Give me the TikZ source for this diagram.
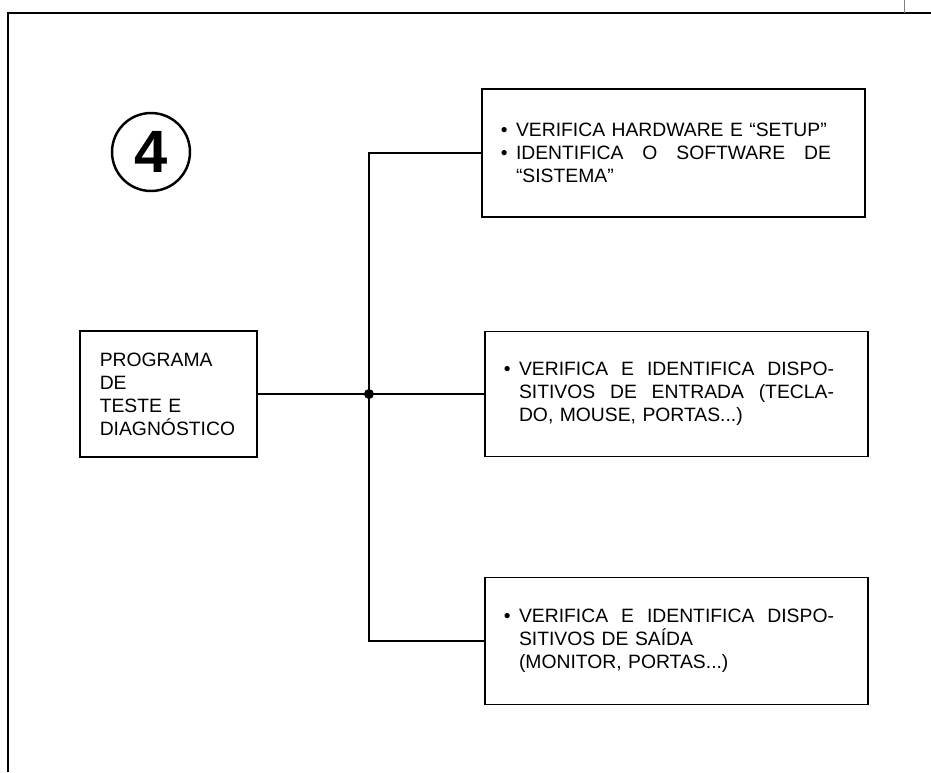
\documentclass[tikz,border=0pt]{standalone}
\usepackage{fontspec}
\setmainfont{Liberation Sans}
\usetikzlibrary{positioning, calc}
\newlength{\linew}
\setlength{\linew}{6.3cm}
\newcommand{\blt}{\leavevmode\llap{\textbullet\hspace{0.17cm}}}
\newcommand{\spread}[1]{\makebox[\linew][s]{\spaceskip=0.28em plus 1fil\relax #1}}
\tikzstyle{infobox} = [rectangle, draw=black, line width=1.1pt, minimum width=7.66cm,
                       text width=6.3cm, align=left, inner xsep=0.3cm]
\tikzstyle{progbox} = [rectangle, draw=black, line width=1.1pt, minimum width=3.54cm,
                       minimum height=2.52cm, text width=2.75cm, align=left]
\tikzstyle{wire}    = [line width=0.7pt]

\begin{document}
\begin{tikzpicture}[x=0.02cm, y=-0.02cm, every node/.style={font=\fontsize{11}{13.1}\selectfont}]
  \useasboundingbox (0,0) rectangle (931,772);

  % frame
  \draw[line width=1.6pt] (8,772) -- (8,13) -- (931,13);
  \draw[gray, line width=0.3pt] (904,0) -- (904,13);

  % number
  \node (num) [circle, draw, line width=1.4pt, minimum size=1.56cm, inner sep=0pt,
               font=\fontsize{34}{34}\selectfont\bfseries] at (151,152) {4};

  % program
  \node (prog) [progbox] at (168.5,394) {PROGRAMA\\DE\\TESTE E\\DIAGNÓSTICO};

  % boxes
  \node (hw) [infobox, minimum height=2.56cm] at (673.5,153)
    {\blt VERIFICA HARDWARE E “SETUP”\\
     \blt\spread{IDENTIFICA O SOFTWARE DE}\\
     “SISTEMA”};
  \node (inbox) [infobox, minimum height=2.5cm] at (676.5,394)
    {\blt\spread{VERIFICA E IDENTIFICA DISPO-}\\
     \spread{SITIVOS DE ENTRADA (TECLA-}\\
     DO, MOUSE, PORTAS...)};
  \node (outbox) [infobox, minimum height=2.54cm] at (676.5,641)
    {\blt\spread{VERIFICA E IDENTIFICA DISPO-}\\
     SITIVOS DE SAÍDA\\
     (MONITOR, PORTAS...)};

  % connectors
  \coordinate (split) at ($(prog.east)+(111,0)$);
  \draw[wire] (prog.east) -- (inbox.west);
  \draw[wire] (hw.west) -| (split) |- (outbox.west);
  \fill (split) circle[radius=0.1cm];

\end{tikzpicture}
\end{document}
